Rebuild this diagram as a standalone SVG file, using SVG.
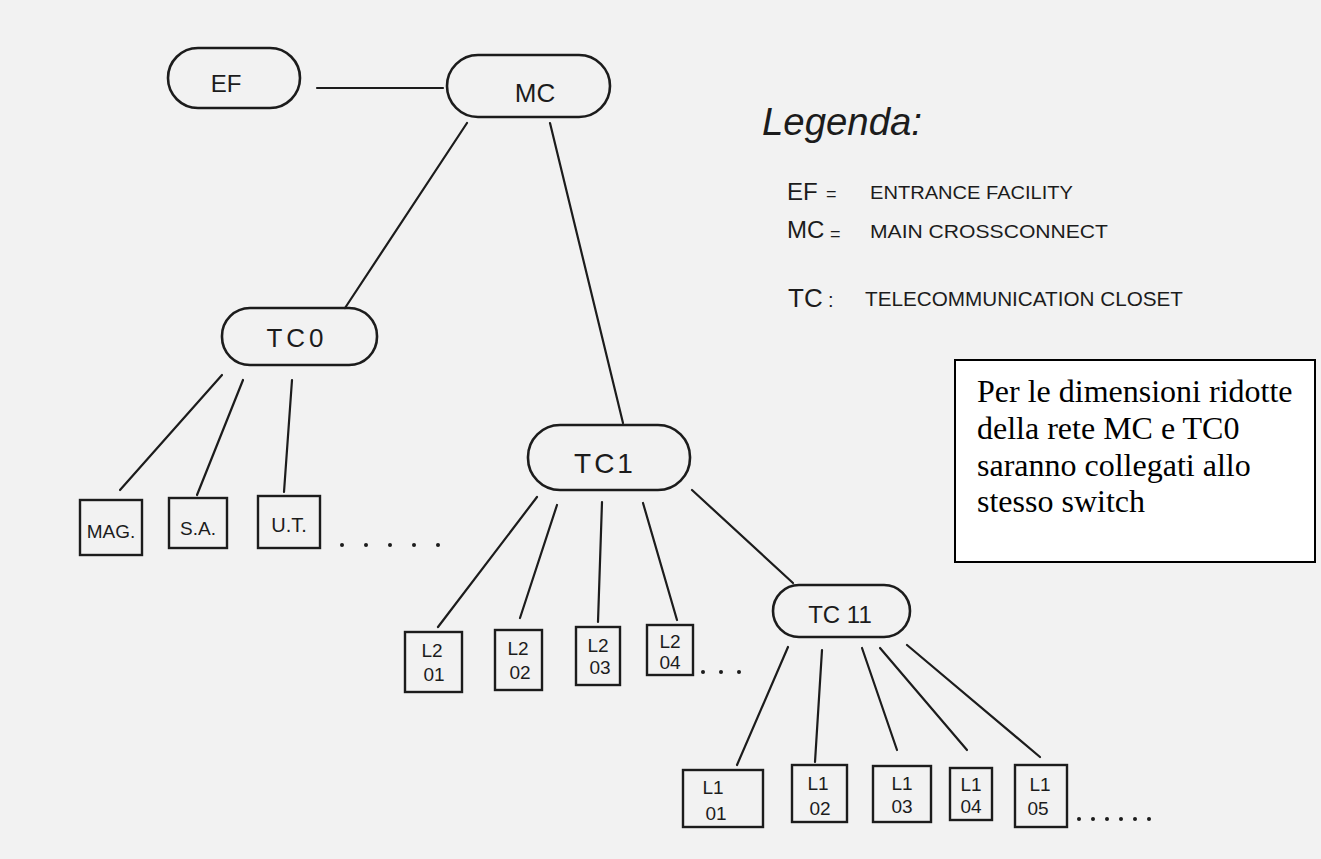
<svg xmlns="http://www.w3.org/2000/svg" width="1321" height="859" viewBox="0 0 1321 859">
<style>
.bg{fill:#f2f2f2}
.node{fill:none;stroke:#1c1c1c;stroke-width:2.6}
.box{fill:none;stroke:#1c1c1c;stroke-width:2.4}
.conn line{stroke:#1c1c1c;stroke-width:2.2;stroke-linecap:round}
.hl{font-family:"Liberation Sans","DejaVu Sans",sans-serif;fill:#1c1c1c;text-anchor:middle}
.lg{font-family:"Liberation Sans","DejaVu Sans",sans-serif;fill:#1c1c1c}
.dot{fill:#1c1c1c}
.note{font-family:"Liberation Serif","Times New Roman",serif;font-size:32px;fill:#000}
</style>
<rect class="bg" x="0" y="0" width="1321" height="859"/>

<g id="connectors" class="conn">
<line x1="317" y1="88" x2="443" y2="88"/>
<line x1="467" y1="123" x2="345" y2="308"/>
<line x1="550" y1="123" x2="623" y2="423"/>
<line x1="222" y1="375" x2="120" y2="490"/>
<line x1="243" y1="380" x2="197" y2="495"/>
<line x1="292" y1="380" x2="284" y2="492"/>
<line x1="537" y1="497" x2="438" y2="627"/>
<line x1="557" y1="505" x2="520" y2="618"/>
<line x1="602" y1="502" x2="598" y2="622"/>
<line x1="643" y1="503" x2="677" y2="620"/>
<line x1="692" y1="490" x2="793" y2="583"/>
<line x1="788" y1="647" x2="737" y2="765"/>
<line x1="822" y1="650" x2="815" y2="762"/>
<line x1="862" y1="648" x2="897" y2="750"/>
<line x1="880" y1="648" x2="967" y2="750"/>
<line x1="907" y1="645" x2="1040" y2="757"/>
</g>

<g id="EF"><rect class="node" x="168" y="48" width="132" height="60" rx="30"/><text class="hl" x="226" y="92" font-size="24">EF</text></g>
<g id="MC"><rect class="node" x="447" y="55" width="163" height="62" rx="31"/><text class="hl" x="535" y="102" font-size="26">MC</text></g>
<g id="TC0"><rect class="node" x="222" y="308" width="155" height="57" rx="28"/><text class="hl" x="297" y="347" font-size="26" letter-spacing="4">TC0</text></g>
<g id="TC1"><rect class="node" x="528" y="425" width="162" height="65" rx="32"/><text class="hl" x="605" y="473" font-size="28" letter-spacing="3">TC1</text></g>
<g id="TC11"><rect class="node" x="773" y="585" width="137" height="52" rx="26"/><text class="hl" x="840" y="623" font-size="24">TC 11</text></g>

<g id="MAG"><rect class="box" x="80" y="500" width="62" height="55"/><text class="hl" x="111" y="538" font-size="19">MAG.</text></g>
<g id="SA"><rect class="box" x="169" y="498" width="58" height="50"/><text class="hl" x="198" y="535" font-size="19">S.A.</text></g>
<g id="UT"><rect class="box" x="258" y="496" width="62" height="52"/><text class="hl" x="289" y="532" font-size="20">U.T.</text></g>
<g id="dots0"><circle class="dot" cx="342" cy="545" r="2"/><circle class="dot" cx="366" cy="545" r="2"/><circle class="dot" cx="390" cy="545" r="2"/><circle class="dot" cx="414" cy="545" r="2"/><circle class="dot" cx="438" cy="545" r="2"/></g>

<g id="L201"><rect class="box" x="405" y="632" width="57" height="60"/><text class="hl" x="432" y="657" font-size="19">L2</text><text class="hl" x="434" y="681" font-size="19">01</text></g>
<g id="L202"><rect class="box" x="495" y="630" width="47" height="60"/><text class="hl" x="518" y="655" font-size="19">L2</text><text class="hl" x="520" y="679" font-size="19">02</text></g>
<g id="L203"><rect class="box" x="576" y="627" width="44" height="58"/><text class="hl" x="598" y="652" font-size="19">L2</text><text class="hl" x="600" y="674" font-size="19">03</text></g>
<g id="L204"><rect class="box" x="647" y="625" width="46" height="50"/><text class="hl" x="670" y="648" font-size="19">L2</text><text class="hl" x="670" y="669" font-size="19">04</text></g>
<g id="dots2"><circle class="dot" cx="703" cy="672" r="2"/><circle class="dot" cx="721" cy="672" r="2"/><circle class="dot" cx="739" cy="672" r="2"/></g>

<g id="L101"><rect class="box" x="683" y="770" width="80" height="57"/><text class="hl" x="713" y="794" font-size="19">L1</text><text class="hl" x="716" y="820" font-size="19">01</text></g>
<g id="L102"><rect class="box" x="792" y="765" width="55" height="57"/><text class="hl" x="818" y="790" font-size="19">L1</text><text class="hl" x="820" y="815" font-size="19">02</text></g>
<g id="L103"><rect class="box" x="873" y="766" width="58" height="56"/><text class="hl" x="902" y="790" font-size="19">L1</text><text class="hl" x="902" y="813" font-size="19">03</text></g>
<g id="L104"><rect class="box" x="950" y="768" width="42" height="52"/><text class="hl" x="971" y="791" font-size="19">L1</text><text class="hl" x="971" y="813" font-size="19">04</text></g>
<g id="L105"><rect class="box" x="1015" y="765" width="52" height="62"/><text class="hl" x="1040" y="791" font-size="19">L1</text><text class="hl" x="1038" y="815" font-size="19">05</text></g>
<g id="dots1"><circle class="dot" cx="1079" cy="819" r="2"/><circle class="dot" cx="1093" cy="819" r="2"/><circle class="dot" cx="1107" cy="819" r="2"/><circle class="dot" cx="1121" cy="819" r="2"/><circle class="dot" cx="1135" cy="819" r="2"/><circle class="dot" cx="1149" cy="819" r="2"/></g>

<g id="legend">
<text class="lg" x="762" y="135" font-size="38" font-style="italic" textLength="160" lengthAdjust="spacingAndGlyphs">Legenda:</text>
<text class="lg" x="787" y="200" font-size="24">EF</text><text class="lg" x="826" y="200" font-size="18">=</text>
<text class="lg" x="870" y="199" font-size="18" textLength="203" lengthAdjust="spacingAndGlyphs">ENTRANCE FACILITY</text>
<text class="lg" x="787" y="238" font-size="24">MC</text><text class="lg" x="830" y="240" font-size="18">=</text>
<text class="lg" x="870" y="238" font-size="19" textLength="238" lengthAdjust="spacingAndGlyphs">MAIN CROSSCONNECT</text>
<text class="lg" x="788" y="307" font-size="26">TC</text><text class="lg" x="828" y="307" font-size="20">:</text>
<text class="lg" x="865" y="306" font-size="21" textLength="318" lengthAdjust="spacingAndGlyphs">TELECOMMUNICATION CLOSET</text>
</g>

<g id="note">
<rect x="955" y="360" width="360" height="202" fill="#ffffff" stroke="#000" stroke-width="2"/>
<text class="note" x="977" y="402">Per le dimensioni ridotte</text>
<text class="note" x="977" y="439">della rete MC e TC0</text>
<text class="note" x="977" y="476">saranno collegati allo</text>
<text class="note" x="977" y="512">stesso switch</text>
</g>
</svg>
